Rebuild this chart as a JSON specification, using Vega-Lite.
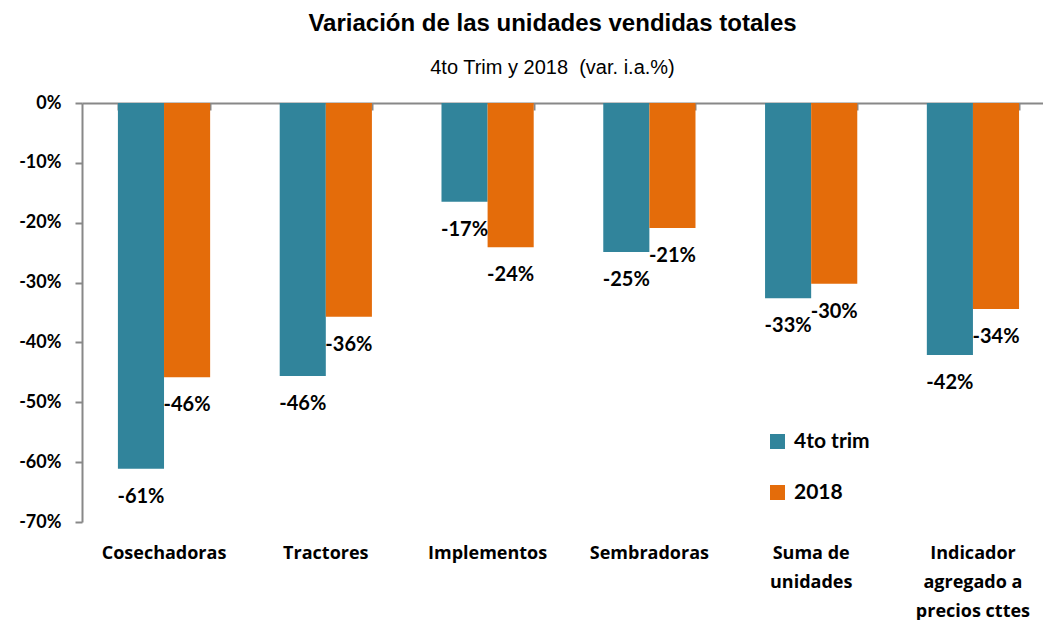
{
  "$schema": "https://vega.github.io/schema/vega-lite/v6.json",
  "autosize": "none",
  "width": 961,
  "height": 419,
  "padding": {"left": 82, "top": 103, "right": 0, "bottom": 98},
  "background": "white",
  "config": {"view": {"stroke": null}, "font": "Lato"},
  "title": {
    "text": "Variación de las unidades vendidas totales",
    "subtitle": "4to Trim y 2018\u00a0 (var. i.a.%)",
    "font": "Liberation Sans",
    "fontSize": 24,
    "fontWeight": "bold",
    "color": "black",
    "subtitleFont": "Liberation Sans",
    "subtitleFontSize": 20,
    "subtitleColor": "black",
    "subtitlePadding": 22,
    "offset": 16,
    "anchor": "middle",
    "dx": -10
  },
  "data": {
    "values": [
      {"cat": "Cosechadoras", "serie": "4to trim", "v": -61.1, "lab": "-61%"},
      {"cat": "Cosechadoras", "serie": "2018", "v": -45.8, "lab": "-46%"},
      {"cat": "Tractores", "serie": "4to trim", "v": -45.6, "lab": "-46%"},
      {"cat": "Tractores", "serie": "2018", "v": -35.7, "lab": "-36%"},
      {"cat": "Implementos", "serie": "4to trim", "v": -16.5, "lab": "-17%"},
      {"cat": "Implementos", "serie": "2018", "v": -24.1, "lab": "-24%"},
      {"cat": "Sembradoras", "serie": "4to trim", "v": -24.9, "lab": "-25%"},
      {"cat": "Sembradoras", "serie": "2018", "v": -20.9, "lab": "-21%"},
      {"cat": "Suma de|unidades", "serie": "4to trim", "v": -32.6, "lab": "-33%"},
      {"cat": "Suma de|unidades", "serie": "2018", "v": -30.2, "lab": "-30%"},
      {"cat": "Indicador|agregado a|precios cttes", "serie": "4to trim", "v": -42.1, "lab": "-42%"},
      {"cat": "Indicador|agregado a|precios cttes", "serie": "2018", "v": -34.4, "lab": "-34%"}
    ]
  },
  "layer": [
    {
      "mark": {"type": "bar"},
      "encoding": {
        "x": {
          "field": "cat", "type": "nominal", "sort": null,
          "scale": {"paddingInner": 0.43, "paddingOuter": 0.185, "align": 0.6},
          "axis": {
            "orient": "top", "labels": false, "title": null,
            "domainColor": "#888888", "domainWidth": 2,
            "tickColor": "#888888", "tickWidth": 2, "tickSize": -7, "tickBand": "extent"
          }
        },
        "xOffset": {"field": "serie", "type": "nominal", "sort": ["4to trim", "2018"]},
        "y": {
          "field": "v", "type": "quantitative",
          "scale": {"domain": [-70, 0], "nice": false},
          "axis": {
            "title": null, "values": [0, -10, -20, -30, -40, -50, -60, -70],
            "labelExpr": "datum.value + '%'", "grid": false,
            "labelFont": "Lato", "labelFontSize": 18, "labelFontWeight": "bold", "labelColor": "black",
            "labelPadding": 14, "domainColor": "#888888", "domainWidth": 2,
            "tickColor": "#888888", "tickWidth": 2, "tickSize": 7
          }
        },
        "color": {
          "field": "serie", "type": "nominal",
          "scale": {"domain": ["4to trim", "2018"], "range": ["#31849B", "#E46C0A"]},
          "legend": {
            "orient": "none", "legendX": 685, "legendY": 328, "title": null,
            "symbolType": "square", "symbolSize": 225, "symbolStrokeWidth": 0,
            "labelFont": "Lato", "labelFontSize": 21, "labelFontWeight": "bold", "labelColor": "black",
            "rowPadding": 29, "padding": 0, "labelOffset": 6
          }
        }
      }
    },
    {
      "mark": {"type": "text", "baseline": "middle", "align": "center", "dy": 28, "font": "Lato", "fontSize": 20, "fontWeight": "bold", "color": "black"},
      "encoding": {
        "x": {
          "field": "cat", "type": "nominal", "sort": null,
          "scale": {"paddingInner": 0.43, "paddingOuter": 0.185, "align": 0.6},
          "axis": {
            "orient": "bottom", "title": null, "domain": false, "ticks": false,
            "labelAngle": 0, "labelExpr": "split(datum.label, '|')",
            "labelFont": "Open Sans", "labelFontSize": 18, "labelFontWeight": "bold", "labelColor": "black",
            "labelPadding": 22, "labelLineHeight": 29, "labelBaseline": "top"
          }
        },
        "xOffset": {"field": "serie", "type": "nominal", "sort": ["4to trim", "2018"]},
        "y": {"field": "v", "type": "quantitative"},
        "text": {"field": "lab"}
      }
    }
  ],
  "resolve": {"axis": {"x": "independent"}}
}
